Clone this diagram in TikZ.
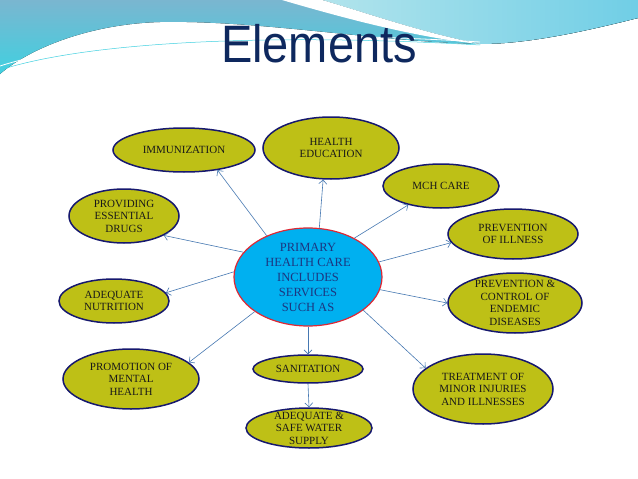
\documentclass[tikz,border=0pt]{standalone}
\usepackage{fontspec}
\setmainfont{Liberation Serif}
\newfontfamily\boxfont{Liberation Serif}
\newfontfamily\titlefont{Liberation Sans}
\usetikzlibrary{shapes.geometric,arrows.meta}
\definecolor{elemfill}{RGB}{190,192,22}
\definecolor{elemline}{RGB}{22,24,110}
\definecolor{hubfill}{RGB}{0,176,240}
\definecolor{hubline}{RGB}{222,40,52}
\definecolor{hubtext}{RGB}{28,54,128}
\definecolor{linkblue}{RGB}{70,120,178}
\definecolor{titleblue}{RGB}{14,40,94}
\definecolor{bandtop}{RGB}{122,182,208}
\definecolor{bandlow}{RGB}{64,208,224}
\definecolor{bandlight}{RGB}{178,228,236}
\definecolor{bandright}{RGB}{112,206,230}
\begin{document}
\begin{tikzpicture}[x=1pt,y=-1pt,
	elem/.style={ellipse,draw=elemline,line width=1.5pt,fill=elemfill,inner sep=-4pt,align=center,
		font=\boxfont\fontsize{11}{12.5}\selectfont,text=black!90},
	hub/.style={ellipse,draw=hubline,line width=1.2pt,fill=hubfill,inner sep=-4pt,align=center,
		font=\boxfont\fontsize{12.5}{15}\selectfont,text=hubtext},
	link/.style={draw=linkblue,line width=0.6pt,-{Straight Barb[length=4pt,width=8pt]}}]
				\useasboundingbox (0,0) rectangle (638,479);
				\fill[white] (0,0) rectangle (638,479);
				
				\fill[top color=bandtop,bottom color=bandlow] (0,0) -- (638,0) -- (638,18) .. controls (590,30) and (530,44) .. (480,44) .. controls (380,42) and (260,20) .. (160,22) .. controls (90,24) and (30,48) .. (0,74) -- cycle;
				\fill[left color=bandlight,right color=bandright] (322,0) -- (638,0) -- (638,18) .. controls (590,30) and (530,44) .. (480,44) .. controls (420,32) and (370,14) .. (322,0) -- cycle;
				\fill[white] (282,0) .. controls (350,20) and (420,38) .. (480,44) .. controls (420,32) and (370,14) .. (322,0) -- cycle;
				\draw[white,line width=0.8pt] (0,66) .. controls (80,40) and (250,28) .. (480,42);
				\draw[bandlow,line width=0.5pt] (0,70) .. controls (80,44) and (250,32) .. (480,45);
				
				\node[text=titleblue,font=\titlefont\fontsize{47}{47}\selectfont] (title) at (319,44) {\scalebox{1}[1.12]{Elements}};
				
				\node[hub,minimum width=148pt,minimum height=98pt] (phc) at (308,277) {PRIMARY\\HEALTH CARE\\INCLUDES\\SERVICES\\SUCH AS};
				
				\node[elem,minimum width=142pt,minimum height=44pt] (imm) at (184,150) {IMMUNIZATION};
				\node[elem,minimum width=110pt,minimum height=54pt] (drugs) at (124,216) {PROVIDING\\ESSENTIAL\\DRUGS};
				\node[elem,minimum width=136pt,minimum height=62pt] (edu) at (331,148) {HEALTH\\EDUCATION};
				\node[elem,minimum width=116pt,minimum height=44pt] (mch) at (441,186) {MCH CARE};
				\node[elem,minimum width=130pt,minimum height=50pt] (illness) at (513,234) {PREVENTION\\OF ILLNESS};
				\node[elem,minimum width=134pt,minimum height=60pt] (endemic) at (515,303) {PREVENTION \&\\CONTROL OF\\ENDEMIC\\DISEASES};
				\node[elem,minimum width=140pt,minimum height=70pt] (minor) at (483,389) {TREATMENT OF\\MINOR INJURIES\\AND ILLNESSES};
				\node[elem,minimum width=110pt,minimum height=28pt] (sanit) at (308,369) {SANITATION};
				\node[elem,minimum width=126pt,minimum height=40pt] (water) at (309,428) {ADEQUATE \&\\SAFE WATER\\SUPPLY};
				\node[elem,minimum width=136pt,minimum height=60pt] (mental) at (131,379) {PROMOTION OF\\MENTAL\\HEALTH};
				\node[elem,minimum width=110pt,minimum height=44pt] (nutri) at (114,301) {ADEQUATE\\NUTRITION};
				
				\draw[link] (phc.135) -- (imm.-31);
				\draw[link] (phc.159) -- (drugs.-26);
				\draw[link] (phc.77) -- (edu.-104);
				\draw[link] (phc.40) -- (mch.210);
				\draw[link] (phc.12) -- (illness.188);
				\draw[link] (phc.-10) -- (endemic.180);
				\draw[link] (phc.-31) -- (minor.160);
				\draw[link] (phc.south) -- (sanit.north);
				\draw[link] (sanit.south) -- (water.north);
				\draw[link] (phc.213) -- (mental.16);
				\draw[link] (phc.176) -- (nutri.9);
			\end{tikzpicture}
\end{document}
